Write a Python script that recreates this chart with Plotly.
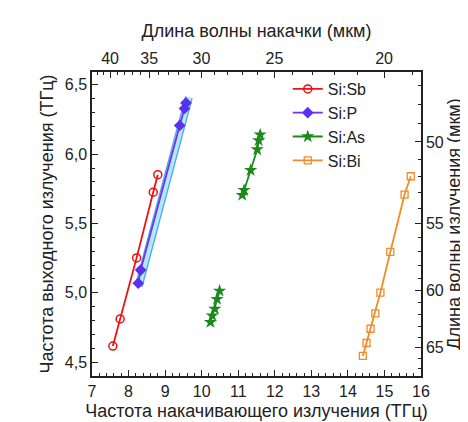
import plotly.graph_objects as go

C = 299.79  # THz*um

# Data (pump frequency THz, output frequency THz)
sb_x = [7.57, 7.77, 8.22, 8.675, 8.80]
sb_y = [4.616, 4.812, 5.252, 5.726, 5.852]

p_x = [8.265, 8.33, 9.40, 9.53, 9.57]
p_y = [5.069, 5.164, 6.207, 6.33, 6.37]

band_x = [8.28, 9.65]
band_y = [5.05, 6.41]

as_x = [10.24, 10.29, 10.36, 10.42, 10.49, None, 11.11, 11.16, 11.34, 11.52, 11.56, 11.60]
as_y = [4.788, 4.836, 4.884, 4.955, 5.014, None, 5.705, 5.74, 5.884, 6.034, 6.10, 6.141]

bi_x = [14.41, 14.51, 14.62, 14.75, 14.89, 15.16, 15.55, 15.72]
bi_y = [4.545, 4.638, 4.741, 4.852, 5.002, 5.295, 5.709, 5.841]

top_labels = [40, 35, 30, 25, 20]
top_minor = [l for l in range(19, 43) if l % 5]
right_labels = [50, 55, 60, 65]
right_minor = [l for l in range(47, 68) if l % 5]

FONT = "Liberation Sans, Arial, sans-serif"
TXT = "#222222"

fig = go.Figure()

fig.add_trace(go.Scatter(x=band_x, y=band_y, mode="lines",
                         line=dict(color="#4aa6ee", width=8), showlegend=False, hoverinfo="skip"))
fig.add_trace(go.Scatter(x=band_x, y=band_y, mode="lines",
                         line=dict(color="#b0eaff", width=5.5), showlegend=False, hoverinfo="skip"))

fig.add_trace(go.Scatter(x=sb_x, y=sb_y, mode="lines+markers", name="Si:Sb",
                         line=dict(color="#ee1111", width=1.8),
                         marker=dict(symbol="circle-open", size=8, color="#ee1111", line=dict(width=1.5))))
fig.add_trace(go.Scatter(x=p_x, y=p_y, mode="lines+markers", name="Si:P",
                         line=dict(color="#7a2cf0", width=1.8),
                         marker=dict(symbol="diamond", size=9, color="#5a30f0")))
fig.add_trace(go.Scatter(x=as_x, y=as_y, mode="lines+markers", name="Si:As",
                         line=dict(color="#1b8a1b", width=1.8),
                         marker=dict(symbol="star", size=10, color="#1b8a1b"), connectgaps=False))
fig.add_trace(go.Scatter(x=bi_x, y=bi_y, mode="lines+markers", name="Si:Bi",
                         line=dict(color="#f28c28", width=1.8),
                         marker=dict(symbol="square-open", size=7, color="#f28c28", line=dict(width=1.3))))

# invisible trace for secondary axes
fig.add_trace(go.Scatter(x=[None], y=[None], xaxis="x2", yaxis="y2", showlegend=False, hoverinfo="skip"))

axis_common = dict(showgrid=False, zeroline=False, showline=True, linecolor=TXT, linewidth=1.5,
                   ticks="inside", ticklen=6, tickwidth=1.2, tickcolor=TXT,
                   tickfont=dict(family=FONT, size=16, color=TXT))

fig.update_layout(
    width=468, height=422,
    margin=dict(l=84, r=55, t=64, b=50),
    paper_bgcolor="white", plot_bgcolor="white",
    separators=", ",
    font=dict(family=FONT, color=TXT),
    xaxis=dict(range=[7, 16], dtick=1, tick0=7,
               minor=dict(dtick=0.2, ticks="inside", ticklen=3, tickcolor=TXT),
               title=dict(text="Частота накачивающего излучения (ТГц)", font=dict(size=18, color=TXT), standoff=5),
               **axis_common),
    yaxis=dict(range=[4.4, 6.593], dtick=0.5, tick0=4.5, tickformat=".1f",
               minor=dict(dtick=0.1, ticks="inside", ticklen=3, tickcolor=TXT),
               title=dict(text="Частота выходного излучения (ТГц)", font=dict(size=18, color=TXT), standoff=6),
               **axis_common),
    xaxis2=dict(range=[7, 16], overlaying="x", side="top", anchor="y",
                tickmode="array", tickvals=[C / l for l in top_labels], ticktext=[str(l) for l in top_labels],
                minor=dict(tickmode="array", tickvals=[C / l for l in top_minor], ticks="inside", ticklen=3, tickcolor=TXT),
                title=dict(text="Длина волны накачки (мкм)", font=dict(size=18, color=TXT), standoff=8),
                **axis_common),
    yaxis2=dict(range=[4.423, 6.466], overlaying="y", side="right", anchor="x",
                tickmode="array", tickvals=[C / l for l in right_labels], ticktext=[str(l) for l in right_labels],
                minor=dict(tickmode="array", tickvals=[C / l for l in right_minor], ticks="inside", ticklen=3, tickcolor=TXT),
                title=dict(text="Длина волны излучения (мкм)", font=dict(size=18, color=TXT), standoff=0),
                **axis_common),
    legend=dict(x=0.595, y=1.0, xanchor="left", yanchor="top", bgcolor="rgba(0,0,0,0)",
                font=dict(family=FONT, size=16, color=TXT), tracegroupgap=0),
    showlegend=True,
)

fig.write_html("out.html")
